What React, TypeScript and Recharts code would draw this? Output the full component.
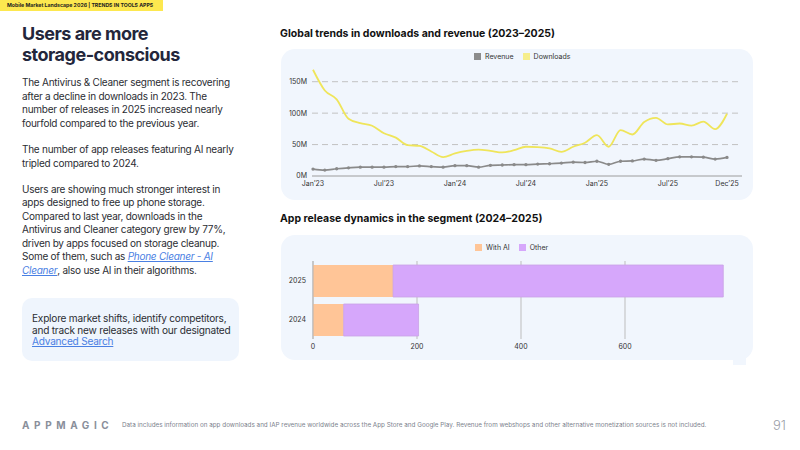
import React from "react";
import {
  LineChart,
  Line,
  BarChart,
  Bar,
  XAxis,
  YAxis,
  CartesianGrid,
  Legend,
} from "recharts";

// Monthly labels, Jan'23 – Dec'25
const months = [
  "Jan’23", "Feb’23", "Mar’23", "Apr’23", "May’23", "Jun’23",
  "Jul’23", "Aug’23", "Sep’23", "Oct’23", "Nov’23", "Dec’23",
  "Jan’24", "Feb’24", "Mar’24", "Apr’24", "May’24", "Jun’24",
  "Jul’24", "Aug’24", "Sep’24", "Oct’24", "Nov’24", "Dec’24",
  "Jan’25", "Feb’25", "Mar’25", "Apr’25", "May’25", "Jun’25",
  "Jul’25", "Aug’25", "Sep’25", "Oct’25", "Nov’25", "Dec’25",
];

// Downloads, millions
const downloads = [
  169, 136, 122, 91, 84, 80, 68, 61, 49, 48, 39, 30,
  36, 40, 42, 40, 37.5, 41, 46.5, 46, 44, 38.5, 46.5, 53,
  65, 46.5, 73, 66, 86, 92.5, 82, 83.5, 80, 86.5, 74.5, 99,
];

// Revenue, millions of USD
const revenue = [
  11, 9.5, 11.5, 13, 14, 14, 14, 15, 15, 16, 15, 14,
  16.5, 16.5, 14, 17, 17.5, 18, 18, 19, 19.5, 20.5, 22, 21.5,
  23.5, 18.5, 23.5, 24, 27, 25, 27.5, 30.5, 30.5, 30, 27, 29.5,
];

const trendTicks = [0, 6, 12, 18, 24, 30, 35];
const moneyTicks = [0, 50, 100, 150];
const moneyGrid = [50, 100, 150];

// App releases per year
const releaseYears = ["2025", "2024"];
const releasesWithAI = [154, 59];
const releasesOther = [635, 144];
const releaseTicks = [0, 200, 400, 600];

const trendData = months.map((m, i) => ({
  idx: i,
  month: m,
  revenue: revenue[i],
  downloads: downloads[i],
}));

const releaseData = releaseYears.map((y, i) => ({
  year: y,
  withAI: releasesWithAI[i],
  other: releasesOther[i],
}));

const FONT = "Inter, 'Noto Sans', Arial, sans-serif";
const CARD_BG = "#f1f6fd";
const TEXT = "#2b2d33";
const LINK = "#4a80e3";

const tickStyle = { fontSize: 7, fill: "#333", fontFamily: FONT };

// Legend with square swatches in a fixed series order
function SquareLegend(props: any) {
  const { items } = props;
  return (
    <div style={{ display: "flex", alignItems: "center", fontFamily: FONT, fontSize: 7, color: "#333" }}>
      {items.map((it: any, i: number) => (
        <div key={i} style={{ display: "flex", alignItems: "center", marginRight: 9 }}>
          <span
            style={{
              display: "inline-block",
              width: 7,
              height: 7,
              background: it.color,
              marginRight: 4,
            }}
          />
          <span>{it.label}</span>
        </div>
      ))}
    </div>
  );
}

const trendLegend = [
  { label: "Revenue", color: "#8c8c8c" },
  { label: "Downloads", color: "#f6ee8c" },
];
const releaseLegend = [
  { label: "With AI", color: "#ffc597" },
  { label: "Other", color: "#d6a7fb" },
];

const Card = ({ left, top, width, height, children }: any) => (
  <div
    style={{
      position: "absolute",
      left,
      top,
      width,
      height,
      background: CARD_BG,
      borderRadius: 14,
    }}
  >
    {children}
  </div>
);

export default function App() {
  return (
    <div
      style={{
        position: "absolute",
        left: 0,
        top: 0,
        width: 800,
        height: 450,
        background: "#fff",
        overflow: "hidden",
        fontFamily: FONT,
      }}
    >
      {/* header tag */}
      <div
        style={{
          position: "absolute",
          left: 0,
          top: 0,
          width: 163,
          height: 11,
          background: "#fde84f",
          fontSize: 5.2,
          fontWeight: 700,
          color: "#1d1d1f",
          lineHeight: "11px",
          paddingLeft: 7,
          boxSizing: "border-box",
          whiteSpace: "nowrap",
        }}
      >
        Mobile Market Landscape 2026 | TRENDS IN TOOLS APPS
      </div>

      {/* headline */}
      <div
        style={{
          position: "absolute",
          left: 22,
          top: 22.5,
          fontSize: 18,
          lineHeight: "21px",
          fontWeight: 700,
          color: "#23263b",
          letterSpacing: -0.5,
        }}
      >
        Users are more
        <br />
        storage-conscious
      </div>

      {/* body copy */}
      <div
        style={{
          position: "absolute",
          left: 22,
          top: 76,
          width: 250,
          fontSize: 10,
          letterSpacing: -0.25,
          lineHeight: "13.5px",
          color: TEXT,
          whiteSpace: "nowrap",
        }}
      >
        <div>
          The Antivirus &amp; Cleaner segment is recovering
          <br />
          after a decline in downloads in 2023. The
          <br />
          number of releases in 2025 increased nearly
          <br />
          fourfold compared to the previous year.
        </div>
        <div style={{ marginTop: 13 }}>
          The number of app releases featuring AI nearly
          <br />
          tripled compared to 2024.
        </div>
        <div style={{ marginTop: 12.5 }}>
          Users are showing much stronger interest in
          <br />
          apps designed to free up phone storage.
          <br />
          Compared to last year, downloads in the
          <br />
          Antivirus and Cleaner category grew by 77%,
          <br />
          driven by apps focused on storage cleanup.
          <br />
          Some of them, such as{" "}
          <span style={{ color: LINK, fontStyle: "italic", textDecoration: "underline" }}>
            Phone Cleaner - AI
          </span>
          <br />
          <span style={{ color: LINK, fontStyle: "italic", textDecoration: "underline" }}>Cleaner</span>
          , also use AI in their algorithms.
        </div>
      </div>

      {/* call-out box */}
      <div
        style={{
          position: "absolute",
          left: 22,
          top: 298,
          width: 217,
          height: 63,
          background: "#eff5fd",
          borderRadius: 10,
          boxSizing: "border-box",
          paddingLeft: 10,
          paddingTop: 15,
          fontSize: 10.1,
          letterSpacing: -0.22,
          lineHeight: "11.7px",
          color: TEXT,
          whiteSpace: "nowrap",
        }}
      >
        Explore market shifts, identify competitors,
        <br />
        and track new releases with our designated
        <br />
        <span style={{ color: LINK, textDecoration: "underline" }}>Advanced Search</span>
      </div>

      {/* chart titles */}
      <div
        style={{
          position: "absolute",
          left: 280,
          top: 27,
          fontSize: 10.5,
          fontWeight: 700,
          color: "#111",
          whiteSpace: "nowrap",
        }}
      >
        Global trends in downloads and revenue (2023–2025)
      </div>
      <div
        style={{
          position: "absolute",
          left: 280,
          top: 212,
          fontSize: 10.5,
          fontWeight: 700,
          color: "#111",
          whiteSpace: "nowrap",
        }}
      >
        App release dynamics in the segment (2024–2025)
      </div>

      {/* downloads & revenue trend */}
      <Card left={281} top={49} width={472} height={151}>
        <LineChart
          width={472}
          height={151}
          data={trendData}
          margin={{ top: 17, right: 11, left: 0, bottom: 0 }}
        >
          <CartesianGrid
            vertical={false}
            horizontalValues={moneyGrid}
            stroke="#c2c2c2"
            strokeDasharray="6 4"
          />
          <XAxis
            dataKey="idx"
            type="number"
            domain={[0, 35]}
            ticks={trendTicks}
            tickFormatter={(v: number) => months[v]}
            padding={{ left: 1, right: 15 }}
            height={24}
            tickLine={false}
            tickSize={0}
            tickMargin={5}
            axisLine={{ stroke: "#9c9c9c" }}
            tick={tickStyle}
            interval={0}
          />
          <YAxis
            width={31}
            domain={[0, 175]}
            ticks={moneyTicks}
            tickFormatter={(v: number) => `${v}M`}
            axisLine={false}
            tickLine={false}
            tickSize={0}
            tickMargin={5}
            tick={tickStyle}
          />
          <Legend
            verticalAlign="middle"
            align="center"
            layout="horizontal"
            wrapperStyle={{ top: 3, left: 193, width: "auto" }}
            content={<SquareLegend items={trendLegend} />}
          />
          <Line
            type="monotone"
            dataKey="revenue"
            name="Revenue"
            stroke="#8a8a8a"
            strokeWidth={1.7}
            dot={{ r: 0.8, fill: "#8a8a8a", stroke: "#8a8a8a" }}
            isAnimationActive={false}
          />
          <Line
            type="monotone"
            dataKey="downloads"
            name="Downloads"
            stroke="#efe55a"
            strokeWidth={1.8}
            dot={false}
            isAnimationActive={false}
          />
        </LineChart>
      </Card>

      {/* app releases */}
      <Card left={281} top={235} width={472} height={125}>
        <BarChart
          width={472}
          height={125}
          data={releaseData}
          layout="vertical"
          margin={{ top: 26, right: 24, left: 0, bottom: 0 }}
          barSize={32}
        >
          <CartesianGrid horizontal={false} verticalValues={releaseTicks} stroke="#bdbdbd" />
          <XAxis
            type="number"
            domain={[0, 800]}
            ticks={releaseTicks}
            height={21}
            axisLine={false}
            tickLine={false}
            tickSize={0}
            tickMargin={5}
            tick={tickStyle}
            interval={0}
          />
          <YAxis
            type="category"
            dataKey="year"
            width={32}
            axisLine={{ stroke: "#b5b5b5" }}
            tickLine={false}
            tickSize={0}
            tickMargin={7}
            tick={tickStyle}
          />
          <Legend
            verticalAlign="middle"
            align="center"
            layout="horizontal"
            wrapperStyle={{ top: 8, left: 194, width: "auto" }}
            content={<SquareLegend items={releaseLegend} />}
          />
          <Bar dataKey="withAI" name="With AI" stackId="r" fill="#ffc597" isAnimationActive={false} />
          <Bar
            dataKey="other"
            name="Other"
            stackId="r"
            fill="#d6a7fb"
            stroke="#c9a2e6"
            strokeWidth={0.8}
            isAnimationActive={false}
          />
        </BarChart>
      </Card>
      <div
        style={{
          position: "absolute",
          left: 733,
          top: 358,
          width: 13,
          height: 7,
          background: CARD_BG,
        }}
      />

      {/* footer */}
      <div
        style={{
          position: "absolute",
          left: 22,
          top: 419,
          fontSize: 10,
          fontWeight: 700,
          letterSpacing: 4.6,
          color: "#8a8f9b",
          lineHeight: "12px",
          whiteSpace: "nowrap",
        }}
      >
        APPMAGIC
      </div>
      <div
        style={{
          position: "absolute",
          left: 122,
          top: 421,
          fontSize: 6.32,
          color: "#7c818d",
          lineHeight: "8px",
          whiteSpace: "nowrap",
        }}
      >
        Data includes information on app downloads and IAP revenue worldwide across the App Store and Google Play. Revenue from webshops and other alternative monetization sources is not included.
      </div>
      <div
        style={{
          position: "absolute",
          left: 773,
          top: 417,
          fontSize: 13,
          color: "#9a9ea8",
          lineHeight: "16px",
          fontWeight: 300,
        }}
      >
        91
      </div>
    </div>
  );
}
